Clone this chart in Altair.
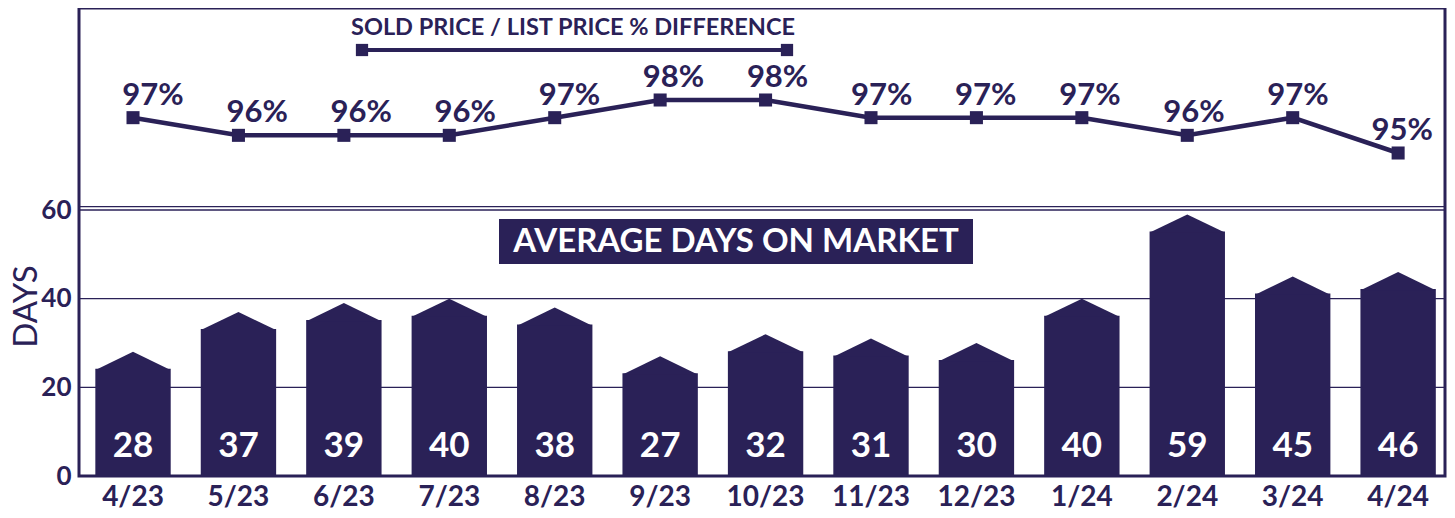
import altair as alt
import pandas as pd

months = ["4/23", "5/23", "6/23", "7/23", "8/23", "9/23", "10/23",
          "11/23", "12/23", "1/24", "2/24", "3/24", "4/24"]
days = [28, 37, 39, 40, 38, 27, 32, 31, 30, 40, 59, 45, 46]
pct = [97, 96, 96, 96, 97, 98, 98, 97, 97, 97, 96, 97, 95]
y_ticks = [0, 20, 40, 60]

NAVY = "#2a2157"
FONT = "Lato"
LEFT = 71
W, H = 1366, 468
PX_PER_DAY = 266 / 60.0
PEAK_PX = 17
BAR_W = 75

df = pd.DataFrame({"month": months, "days": days, "pct": pct})
df["pct_label"] = df["pct"].astype(str) + "%"
df["idx"] = range(len(months))

xenc = alt.X("month:N", sort=months,
             scale=alt.Scale(paddingInner=0.285, paddingOuter=0.121, align=0.64),
             axis=alt.Axis(title=None, labelAngle=0, labelFont=FONT, labelFontSize=28,
                           labelFontWeight="bold", labelColor=NAVY, ticks=False,
                           domain=False, labelPadding=7, grid=False))

yscale = alt.Scale(domain=[0, H / PX_PER_DAY], nice=False, zero=True)
base = alt.Chart(df)

gdf = pd.DataFrame({"t": y_ticks})
grid = alt.Chart(gdf).mark_rule(color=NAVY, strokeWidth=1.3).encode(
    y=alt.Y("t:Q", scale=yscale,
            axis=alt.Axis(values=y_ticks, title="DAYS", titleFont=FONT, titleFontSize=33,
                          titleFontWeight="normal", titleColor=NAVY, titleAngle=-90,
                          titleX=26 - (8 + LEFT), titleY=298, titleAlign="center",
                          titleBaseline="middle",
                          labelFont=FONT, labelFontSize=26, labelFontWeight="bold",
                          labelColor=NAVY, ticks=False, domain=False, grid=False,
                          labelPadding=8))
)

sep = alt.Chart(gdf).mark_rule(color=NAVY, strokeWidth=1.3).encode(
    y=alt.value(H - 266 - 3.3), x=alt.value(0), x2=alt.value(W)
).transform_filter("datum.t == 60")

bars = base.mark_bar(color=NAVY).encode(
    x=xenc,
    y=alt.Y("shoulder:Q", scale=yscale, axis=None),
    y2=alt.datum(0),
).transform_calculate(shoulder=f"datum.days - {PEAK_PX / PX_PER_DAY}")

r = BAR_W / 2.0
tri = base.mark_point(
    shape=f"M-1,0.03L0,{-PEAK_PX / r:.4f}L1,0.03Z",
    filled=True, color=NAVY, opacity=1, size=BAR_W * BAR_W, strokeWidth=0
).encode(
    x=alt.X("month:N", sort=months),
    y=alt.Y("shoulder:Q", scale=yscale, axis=None),
).transform_calculate(shoulder=f"datum.days - {PEAK_PX / PX_PER_DAY}")

bar_text = base.mark_text(color="white", font=FONT, fontSize=35, fontWeight="bold",
                          baseline="middle").encode(
    x=alt.X("month:N", sort=months),
    y=alt.value(438),
    text="days:Q",
)

pscale = alt.Scale(domain=[95 - (H - 145) / 17.67, 98 + 92 / 17.67], nice=False, zero=False)
line = base.mark_line(color=NAVY, strokeWidth=4.5).encode(
    x=alt.X("month:N", sort=months),
    y=alt.Y("pct:Q", scale=pscale, axis=None),
)
pts = base.mark_square(color=NAVY, size=170, opacity=1).encode(
    x=alt.X("month:N", sort=months),
    y=alt.Y("pct:Q", scale=pscale, axis=None),
)
# with xOffset present the text is positioned from the band start
ptext = base.mark_text(color=NAVY, font=FONT, fontSize=31, fontWeight="bold",
                       align="center", baseline="alphabetic", dy=-13).encode(
    x=alt.X("month:N", sort=months),
    xOffset=alt.XOffset("off:Q", scale=None),
    y=alt.Y("pct:Q", scale=pscale, axis=None),
    text="pct_label:N",
).transform_calculate(off="57.7 - 16 * datum.idx / 12")

# legend for the line
ldf = pd.DataFrame({"k": [0]})
leg_text = alt.Chart(ldf).mark_text(
    text="SOLD PRICE / LIST PRICE % DIFFERENCE", color=NAVY, font=FONT,
    fontSize=23.5, fontWeight="bold", align="center", baseline="alphabetic"
).encode(x=alt.value(494), y=alt.value(27))
leg_line = alt.Chart(ldf).mark_rule(color=NAVY, strokeWidth=4).encode(
    x=alt.value(283), x2=alt.value(708), y=alt.value(42))
leg_pts = alt.Chart(pd.DataFrame({"p": [283, 708]})).mark_square(
    color=NAVY, size=150, opacity=1).encode(x=alt.X("p:Q", scale=None), y=alt.value(42))

# title box
box = alt.Chart(ldf).mark_rect(color=NAVY).encode(
    x=alt.value(420), x2=alt.value(894), y=alt.value(211), y2=alt.value(256))
box_text = alt.Chart(ldf).mark_text(
    text="AVERAGE DAYS ON MARKET", color="white", font=FONT, fontSize=33,
    fontWeight="bold", align="center", baseline="middle"
).encode(x=alt.value(657), y=alt.value(234))

chart = alt.layer(
    grid, sep, bars, tri, bar_text, line, pts, ptext,
    leg_text, leg_line, leg_pts, box, box_text
).resolve_scale(y="independent").properties(
    width=W, height=H,
    autosize=alt.AutoSizeParams(type="none"),
    padding={"left": LEFT, "top": 0, "right": 2, "bottom": 40},
).configure_view(stroke=NAVY, strokeWidth=3).configure_axis(grid=False)

chart.save("out.html", embed_options={"renderer": "svg", "actions": False})
